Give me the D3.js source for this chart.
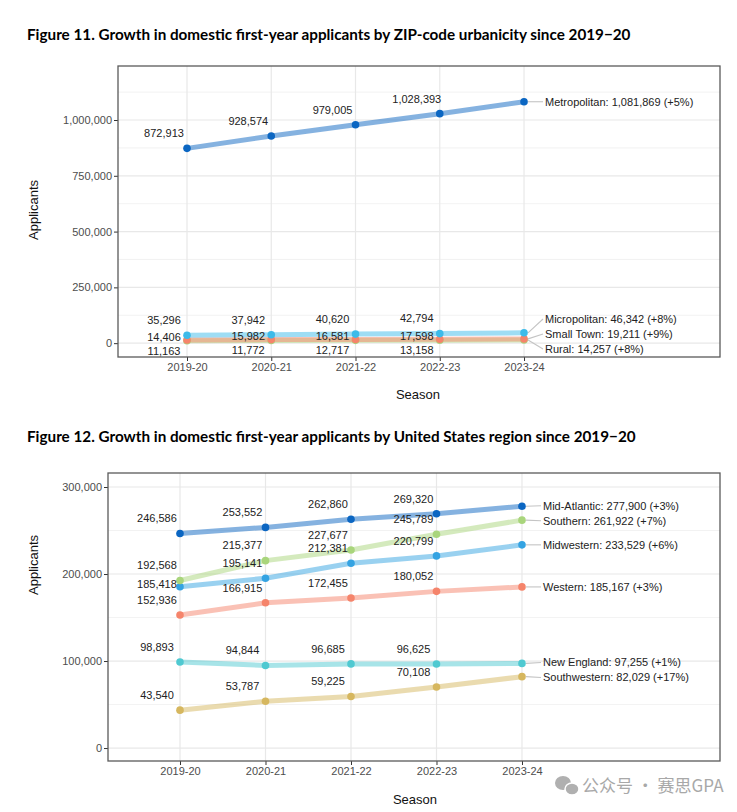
<!DOCTYPE html>
<html>
<head>
<meta charset="utf-8">
<script src="https://cdn.jsdelivr.net/npm/d3@7"></script>
<style>
  html, body { margin: 0; padding: 0; background: #fff; }
  svg { display: block; }
</style>
</head>
<body>
<svg id="chart" width="737" height="812"></svg>
<script>
// ---------------- DATA ----------------
const seasons = ["2019-20", "2020-21", "2021-22", "2022-23", "2023-24"];

// Figure 11 – urbanicity
const urbanSeries = ["Metropolitan", "Micropolitan", "Small Town", "Rural"];
const metropolitan = [872913, 928574, 979005, 1028393, 1081869];
const micropolitan = [35296, 37942, 40620, 42794, 46342];
const smallTown = [14406, 15982, 16581, 17598, 19211];
const rural = [11163, 11772, 12717, 13158, 14257];
const urbanChange = ["+5%", "+8%", "+9%", "+8%"];
const urbanTicks = [0, 250000, 500000, 750000, 1000000];

// Figure 12 – region
const regionSeries = ["Mid-Atlantic", "Southern", "Midwestern", "Western", "New England", "Southwestern"];
const midAtlantic = [246586, 253552, 262860, 269320, 277900];
const southern = [192568, 215377, 227677, 245789, 261922];
const midwestern = [185418, 195141, 212381, 220799, 233529];
const western = [152936, 166915, 172455, 180052, 185167];
const newEngland = [98893, 94844, 96685, 96625, 97255];
const southwestern = [43540, 53787, 59225, 70108, 82029];
const regionChange = ["+3%", "+7%", "+6%", "+3%", "+1%", "+17%"];
const regionTicks = [0, 100000, 200000, 300000];

const title11 = "Figure 11. Growth in domestic first-year applicants by ZIP-code urbanicity since 2019\u221220";
const title12 = "Figure 12. Growth in domestic first-year applicants by United States region since 2019\u221220";

// ---------------- STYLE ----------------
const urbanColors = ["#0b66c2", "#3dbbe9", "#f5846b", "#a9d57c"];
const regionColors = ["#0b66c2", "#a9d57c", "#34a3e2", "#f5846b", "#4fc9d1", "#d6b75f"];
const tickFont = "'Liberation Sans', Arial, sans-serif";

const svg = d3.select("#chart");
svg.append("rect").attr("width", 737).attr("height", 812).attr("fill", "#fff");

const fmt = d3.format(",");

function fitTitle(text, x, y, targetWidth) {
  const t = svg.append("text")
    .attr("x", x).attr("y", y)
    .attr("font-family", "Lato, 'Open Sans', sans-serif")
    .attr("font-weight", "bold")
    .attr("font-size", 14)
    .attr("fill", "#000")
    .text(text);
  const w = t.node().getComputedTextLength();
  t.attr("font-size", 14 * targetWidth / w);
}

function drawChart(cfg) {
  const g = svg.append("g");
  const { left, right, top, bottom } = cfg.panel;
  const x = d3.scaleLinear().domain(cfg.xDomain).range([left, right]);
  const y = d3.scaleLinear().domain(cfg.yDomain).range([bottom, top]);

  // grid
  const step = cfg.ticks[1] - cfg.ticks[0];
  const minor = cfg.ticks.map(t => t + step / 2).filter(m => m < cfg.yDomain[1]);
  g.append("g").selectAll("line").data(minor).join("line")
    .attr("x1", left).attr("x2", right)
    .attr("y1", d => y(d)).attr("y2", d => y(d))
    .attr("stroke", "#efefef").attr("stroke-width", 0.8);
  g.append("g").selectAll("line").data(cfg.ticks).join("line")
    .attr("x1", left).attr("x2", right)
    .attr("y1", d => y(d)).attr("y2", d => y(d))
    .attr("stroke", "#e8e8e8").attr("stroke-width", 1.2);
  g.append("g").selectAll("line").data(d3.range(seasons.length)).join("line")
    .attr("x1", d => x(d)).attr("x2", d => x(d))
    .attr("y1", top).attr("y2", bottom)
    .attr("stroke", "#e8e8e8").attr("stroke-width", 1.2);

  // axes
  const yAxis = d3.axisLeft(y).tickValues(cfg.ticks).tickFormat(fmt).tickSize(4).tickPadding(2);
  const ya = g.append("g").attr("transform", `translate(${left},0)`).call(yAxis);
  const xAxis = d3.axisBottom(x).tickValues(d3.range(seasons.length)).tickFormat(i => seasons[i]).tickSize(4).tickPadding(2);
  const xa = g.append("g").attr("transform", `translate(0,${bottom})`).call(xAxis);
  [ya, xa].forEach(a => {
    a.select(".domain").remove();
    a.selectAll(".tick line").attr("stroke", "#333");
    a.selectAll(".tick text").attr("fill", "#4d4d4d").attr("font-size", 11).attr("font-family", tickFont);
  });

  // panel border
  g.append("rect").attr("x", left).attr("y", top)
    .attr("width", right - left).attr("height", bottom - top)
    .attr("fill", "none").attr("stroke", "#5a5a5a").attr("stroke-width", 1.3);

  // axis titles
  g.append("text").attr("transform", `translate(${cfg.yTitle[0]},${cfg.yTitle[1]}) rotate(-90)`)
    .attr("text-anchor", "middle").attr("font-family", tickFont).attr("font-size", 13)
    .attr("fill", "#111").text("Applicants");
  g.append("text").attr("x", cfg.xTitle[0]).attr("y", cfg.xTitle[1])
    .attr("text-anchor", "middle").attr("font-family", tickFont).attr("font-size", 13)
    .attr("fill", "#111").text("Season");

  const series = cfg.names.map((n, k) => ({
    name: n, values: cfg.values[k], color: cfg.colors[k], change: cfg.change[k]
  }));
  const drawOrder = series.slice().reverse();

  const line = d3.line().x((d, i) => x(i)).y(d => y(d));
  g.append("g").selectAll("path").data(drawOrder).join("path")
    .attr("d", s => line(s.values))
    .attr("fill", "none").attr("stroke", s => s.color)
    .attr("stroke-opacity", 0.5).attr("stroke-width", 5)
    .attr("stroke-linejoin", "round").attr("stroke-linecap", "round");

  // value labels (first four seasons) with simple collision avoidance
  const placed = [];
  const labels = [];
  const tmp = g.append("text").attr("font-family", tickFont).attr("font-size", 11);
  series.forEach(s => {
    s.values.slice(0, seasons.length - 1).forEach((v, i) => {
      const txt = fmt(v);
      tmp.text(txt);
      const w = tmp.node().getComputedTextLength();
      const cx = x(i) - 23;
      const py = y(v);
      const candidates = [-15, -3, 10];
      let cy = py + candidates[0];
      for (const dy of candidates) {
        const c = py + dy;
        const box = { x0: cx - w / 2, x1: cx + w / 2, y0: c - 5.5, y1: c + 5.5 };
        const hit = placed.some(b => !(box.x1 < b.x0 || box.x0 > b.x1 || box.y1 < b.y0 || box.y0 > b.y1));
        cy = c;
        if (!hit) break;
      }
      placed.push({ x0: cx - w / 2, x1: cx + w / 2, y0: cy - 5.5, y1: cy + 5.5 });
      labels.push({ txt, cx, cy });
    });
  });
  tmp.remove();

  // end labels with vertical repel
  const ends = series.map(s => ({
    s, px: x(seasons.length - 1), py: y(s.values[seasons.length - 1]),
  }));
  ends.forEach(e => e.ly = e.py);
  const sorted = ends.slice().sort((a, b) => a.py - b.py);
  for (let it = 0; it < 200; it++) {
    for (let i = 1; i < sorted.length; i++) {
      const d = sorted[i].ly - sorted[i - 1].ly;
      if (d < 15) {
        const push = (15 - d) / 2;
        sorted[i].ly += push;
        sorted[i - 1].ly -= push;
      }
    }
    const last = sorted[sorted.length - 1];
    if (last.ly > bottom - 8) {
      const shift = last.ly - (bottom - 8);
      sorted.forEach(e => { if (e.py > bottom - 80) e.ly -= shift; });
    }
  }
  const textX = x(seasons.length - 1) + 21;
  g.append("g").selectAll("line").data(ends).join("line")
    .attr("x1", e => e.px + 4).attr("y1", e => e.py)
    .attr("x2", textX - 2).attr("y2", e => e.ly)
    .attr("stroke", "#c4c4c4").attr("stroke-width", 1.1);

  // points
  g.append("g").selectAll("g").data(drawOrder).join("g")
    .attr("fill", s => s.color)
    .selectAll("circle").data(s => s.values).join("circle")
    .attr("cx", (d, i) => x(i)).attr("cy", d => y(d)).attr("r", 3.8);

  g.append("g").selectAll("text").data(labels).join("text")
    .attr("x", d => d.cx).attr("y", d => d.cy).attr("dy", "0.35em")
    .attr("text-anchor", "middle").attr("font-family", tickFont).attr("font-size", 11)
    .attr("fill", "#222").text(d => d.txt);

  g.append("g").selectAll("text").data(ends).join("text")
    .attr("x", textX).attr("y", e => e.ly).attr("dy", "0.35em")
    .attr("font-family", tickFont).attr("font-size", 11).attr("fill", "#222")
    .text(e => `${e.s.name}: ${fmt(e.s.values[seasons.length - 1])} (${e.s.change})`);
}

// Figure 11
fitTitle(title11, 27, 40, 604);
drawChart({
  panel: { left: 118, right: 720, top: 66, bottom: 357 },
  xDomain: [-0.819, 6.326],
  yDomain: [-62000, 1242000],
  ticks: urbanTicks,
  names: urbanSeries,
  values: [metropolitan, micropolitan, smallTown, rural],
  colors: urbanColors,
  change: urbanChange,
  yTitle: [38, 210],
  xTitle: [418, 399]
});

// Figure 12
fitTitle(title12, 27, 442, 609);
drawChart({
  panel: { left: 108, right: 720, top: 473, bottom: 761 },
  xDomain: [-0.842, 6.316],
  yDomain: [-14900, 316100],
  ticks: regionTicks,
  names: regionSeries,
  values: [midAtlantic, southern, midwestern, western, newEngland, southwestern],
  colors: regionColors,
  change: regionChange,
  yTitle: [38, 565],
  xTitle: [415, 804]
});

// watermark
const wm = svg.append("g").attr("fill", "#b0b0b0");
wm.append("ellipse").attr("cx", 563).attr("cy", 783).attr("rx", 8).attr("ry", 7);
wm.append("ellipse").attr("cx", 572).attr("cy", 789).attr("rx", 7).attr("ry", 6).attr("stroke", "#fff").attr("stroke-width", 1.5);
svg.append("text").attr("x", 582).attr("y", 792)
  .attr("font-family", "'Noto Sans CJK SC', sans-serif").attr("font-size", 17)
  .attr("fill", "#a8a8a8").text("公众号 · 赛思GPA");
</script>
</body>
</html>
